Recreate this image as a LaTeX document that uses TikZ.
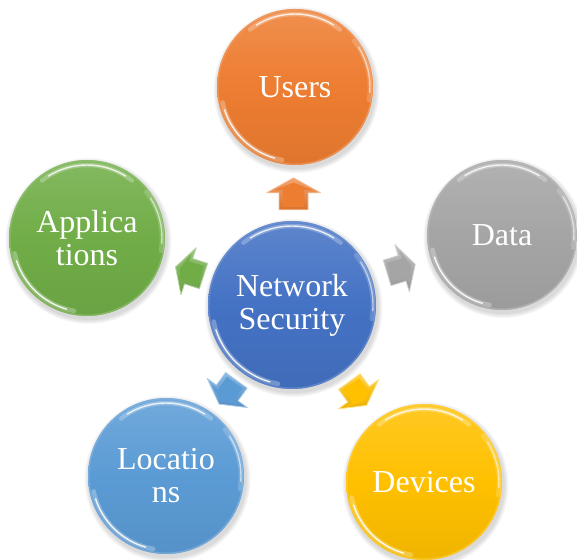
\documentclass[tikz,border=0pt]{standalone}
\usepackage{fontspec}
\setmainfont{Liberation Serif}
\usetikzlibrary{calc}

\definecolor{cOrange}{HTML}{ED7D31}
\definecolor{cGray}{HTML}{A5A5A5}
\definecolor{cGreen}{HTML}{70AD47}
\definecolor{cBlue}{HTML}{5B9BD5}
\definecolor{cYellow}{HTML}{FFC000}
\definecolor{cNavy}{HTML}{4472C4}

\tikzset{
  bubbletext/.style={circle, inner sep=0pt, text=white, align=center,
    font=\fontsize{32}{33}\selectfont},
  gloss/.style={white, line cap=round},
  pics/blockarrow/.style={code={
    \shade[top color=#1!70!white, bottom color=#1!92!black, draw=#1!50!white, line width=0.8pt, line join=round]
      (-16,-14.5) -- (1,-14.5) -- (1,-27) -- (16,0) -- (1,27) -- (1,14.5) -- (-16,14.5) -- cycle;
    \fill[#1, line join=round]
      (-13,-10.5) -- (4,-10.5) -- (4,-19) -- (11,0) -- (4,19) -- (4,10.5) -- (-13,10.5) -- cycle;
  }}
}

% a soft highlight arc: wide faint stroke under a thin bright one
\newcommand\glint[4]{% radius, start, end, strength
  \draw[gloss,opacity={0.25*#4},line width=4.5pt] (#2:#1) arc[start angle=#2,end angle=#3,radius=#1];
  \draw[gloss,opacity={0.8*#4},line width=1.4pt] ({#2+6}:#1) arc[start angle={#2+6},end angle={#3-6},radius=#1];
}

% one glossy disc with its label node
\newcommand\bubble[6]{% name, x, y, radius, colour, text
  \begin{scope}[shift={(#2,#3)}]
    \foreach \k in {1,...,5}
      \fill[black,opacity=.03] (1.5,-3) circle ({#4+\k});
    \shade[top color=#5!86!white, bottom color=#5!94!black, middle color=#5] (0,0) circle (#4);
    \draw[#5!75!white,opacity=.6,line width=1.5pt] (0,0) circle ({#4-0.8});
    \glint{#4-5}{52}{128}{1}
    \glint{#4-4}{192}{260}{1.1}
    \glint{#4-3}{-10}{38}{0.7}
  \end{scope}
  \node[bubbletext, minimum size={2*#4}] (#1) at (#2,#3) {#6};
}

\begin{document}
\begin{tikzpicture}[x=1pt,y=1pt]
  \useasboundingbox (0,0) rectangle (577,559);

  \bubble{ns}{292}{254}{84}{cNavy}{Network\\Security}
  \bubble{users}{295}{472}{78}{cOrange}{Users}
  \bubble{data}{502}{324}{75}{cGray}{Data}
  \bubble{apps}{87}{321}{78}{cGreen}{Applica\\tions}
  \bubble{locs}{166}{83}{78}{cBlue}{Locatio\\ns}
  \bubble{devs}{424}{77}{78}{cYellow}{Devices}

  % outward arrows from the hub
  \pic[rotate=90] at ($(ns)!0.51!(users)$) {blockarrow=cOrange};
  \pic[rotate=17, scale=.92] at ($(ns)!0.52!(data)$) {blockarrow=cGray};
  \pic[rotate=162, scale=.92] at ($(ns)!0.5!(apps)$) {blockarrow=cGreen};
  \pic[rotate=-126, scale=.92] at ($(ns)!0.51!(locs)$) {blockarrow=cBlue};
  \pic[rotate=-54, scale=.92] at ($(ns)!0.5!(devs)$) {blockarrow=cYellow};
\end{tikzpicture}
\end{document}
